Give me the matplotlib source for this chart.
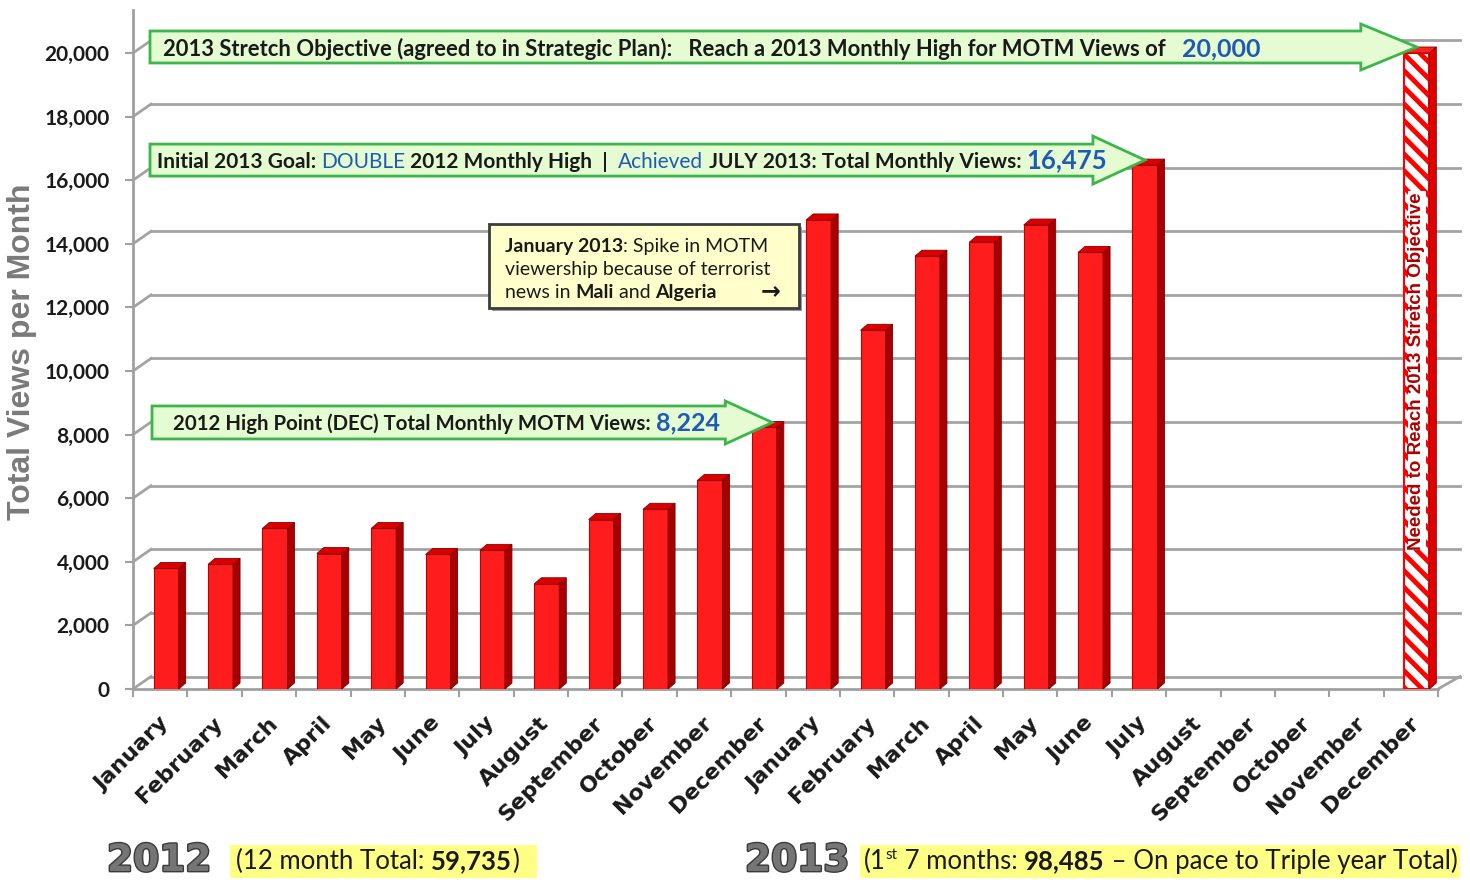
import matplotlib
matplotlib.use("Agg")
import numpy as np
import matplotlib.pyplot as plt
import matplotlib.transforms as mtransforms
import matplotlib.patheffects as pe
from matplotlib.patches import Polygon, Rectangle

# monthly MOTM views
months = ["January", "February", "March", "April", "May", "June", "July",
          "August", "September", "October", "November", "December"]
views_2012 = [3790, 3920, 5050, 4260, 5050, 4230, 4360, 3310, 5330, 5651, 6560, 8224]
views_2013 = [14750, 11280, 13610, 14050, 14590, 13730, 16475]
stretch_goal = 20000
yticks = list(range(0, 20001, 2000))

FONT = ["Lato", "DejaVu Sans"]
BLUE = "#1f5bb5"
plt.rcParams["hatch.linewidth"] = 3.5

W, H = 1470, 880
fig = plt.figure(figsize=(W / 100, H / 100), dpi=100)
ax = fig.add_axes([133 / W, 191 / H, 1305 / W, 679 / H])
YMAX = 21352
ax.set_xlim(-0.5, 23.5)
ax.set_ylim(0, YMAX)

# pixel -> data unit helpers
PXX = 24 / 1305
PXY = YMAX / 679
SHIFT = 6 * PXX      # bars sit a little back from the front edge
BW = 25 * PXX
DX, DY = 7 * PXX, 6 * PXY

# back wall gridlines with the little diagonal from each tick
GX0 = -0.5 + 18 * PXX
GX1 = 23.5 + 22 * PXX
GDY = 12.5 * PXY
for v in yticks:
    ax.plot([-0.5, GX0], [v, v + GDY], color="#a3a3a3", lw=2, clip_on=False, zorder=1)
    ax.plot([GX0, GX1], [v + GDY, v + GDY], color="#a3a3a3", lw=2, clip_on=False, zorder=1)
ax.plot([23.5, GX1], [0, GDY], color="#a3a3a3", lw=2, clip_on=False, zorder=1)


def faces(bars, side_col, top_col):
    for b in bars:
        x0, w, h = b.get_x(), b.get_width(), b.get_height()
        x1 = x0 + w
        ax.add_patch(Polygon([(x1, 0), (x1 + DX, DY), (x1 + DX, h + DY), (x1, h)],
                             closed=True, fc=side_col, ec="#7a0000", lw=0.6, zorder=3))
        ax.add_patch(Polygon([(x0, h), (x0 + DX, h + DY), (x1 + DX, h + DY), (x1, h)],
                             closed=True, fc=top_col, ec="#8a0000", lw=0.6, zorder=3))


values = views_2012 + views_2013
xs = np.arange(len(values)) + SHIFT
bars = ax.bar(xs, values, width=BW, color="#ff1c1c", edgecolor="#c00000", lw=0.8, zorder=3)
faces(bars, "#a80000", "#d80000")

goal_x = 23 + SHIFT
goal_bar = ax.bar([goal_x], [stretch_goal], width=BW, color="white", edgecolor="#ff0000",
                  hatch="\\\\", lw=1.5, zorder=3)
faces(goal_bar, "#e00000", "#ff2020")
ax.text(goal_x, stretch_goal / 2, "Needed to Reach 2013 Stretch Objective", rotation=90,
        ha="center", va="center", fontsize=13.5, fontweight="bold", color="#b00000",
        family="Liberation Sans", zorder=4,
        bbox=dict(fc="white", ec="none", pad=0.5))

# axes styling
for s in ["top", "right"]:
    ax.spines[s].set_visible(False)
for s in ["left", "bottom"]:
    ax.spines[s].set_color("#a0a0a0")
    ax.spines[s].set_linewidth(2)
ax.set_yticks(yticks)
ax.set_yticklabels([f"{v:,}" for v in yticks], fontsize=15, fontweight="bold",
                   family=FONT, color="#1a1a1a")
ax.set_xticks(np.arange(-0.5, 24, 1))
ax.set_xticklabels([])
ax.tick_params(axis="both", length=6, width=1.5, color="#a0a0a0")
ax.tick_params(axis="y", pad=11)

lab_tr = mtransforms.offset_copy(ax.get_xaxis_transform(), fig=fig, x=-2, y=-24, units="dots")
for i, m in enumerate(months * 2):
    ax.text(i, 0, m, transform=lab_tr, rotation=45, rotation_mode="anchor",
            ha="right", va="top", fontsize=16, fontweight="bold",
            family="DejaVu Sans", color="#1a1a1a")

fig.text(22 / W, 1 - 352 / H, "Total Views per Month", rotation=90, ha="center",
         va="center", fontsize=23, fontweight="bold", family="Liberation Sans",
         color="#7a7a7a")


def arrow(x_tail, x_tip, y_tip, half_body, half_head, head_len):
    hb, hh, hl = half_body * PXY, half_head * PXY, head_len * PXX
    verts = [(x_tail, y_tip - hb), (x_tip - hl, y_tip - hb), (x_tip - hl, y_tip - hh),
             (x_tip, y_tip), (x_tip - hl, y_tip + hh), (x_tip - hl, y_tip + hb),
             (x_tail, y_tip + hb)]
    ax.add_patch(Polygon(verts, closed=True, fc="#e5fbd2", ec="#3cb54a", lw=2,
                         clip_on=False, zorder=5))
    return ax.transData.transform((x_tail, y_tip))


renderer = fig.canvas.get_renderer()


def text_width(s, fs, weight):
    a = fig.text(0, 0, s + "|", fontsize=fs, fontweight=weight, family=FONT)
    b = fig.text(0, 0, "|", fontsize=fs, fontweight=weight, family=FONT)
    w = a.get_window_extent(renderer).width - b.get_window_extent(renderer).width
    a.remove()
    b.remove()
    return w


def rich(x, y, parts, size):
    # x, y in display pixels (origin bottom-left), y is the baseline
    off = 0.0
    for part in parts:
        s, color, weight = part[:3]
        fs = part[3] if len(part) > 3 else size
        dy = part[4] if len(part) > 4 else 0
        tr = mtransforms.offset_copy(mtransforms.IdentityTransform(), fig=fig,
                                     x=off, y=dy, units="dots")
        fig.text(x, y, s, transform=tr, color=color, fontsize=fs, fontweight=weight,
                 family=FONT, va="baseline", ha="left", zorder=6)
        off += text_width(s, fs, weight)


# stretch objective arrow
tail_x = -0.5 + 17 * PXX
p = arrow(tail_x, goal_x, stretch_goal + 6 * PXY, 16, 23, 56)
rich(163, p[1] - 9, [
    ("2013 Stretch Objective (agreed to in Strategic Plan):   Reach a 2013 Monthly High for MOTM Views of   ",
     "#1a1a1a", "bold"),
    (f"{stretch_goal:,}", BLUE, "bold", 18)], 15.8)

# initial goal arrow (July 2013)
p = arrow(tail_x, 18 + SHIFT, views_2013[6] + 5 * PXY, 16, 24, 52)
rich(157, p[1] - 8, [
    ("Initial 2013 Goal: ", "#1a1a1a", "bold"),
    ("DOUBLE", BLUE, "normal"),
    (" 2012 Monthly High  |  ", "#1a1a1a", "bold"),
    ("Achieved", BLUE, "normal"),
    (" JULY 2013: Total Monthly Views: ", "#1a1a1a", "bold"),
    (f"{views_2013[6]:,}", BLUE, "bold", 18.5)], 15)

# 2012 high point arrow
p = arrow(-0.5 + 19 * PXX, 11 + SHIFT + 8 * PXX, views_2012[11] + 5 * PXY, 16.5, 21.5, 47)
rich(173, p[1] - 8, [
    ("2012 High Point (DEC) Total Monthly MOTM Views: ", "#1a1a1a", "bold"),
    (f"{views_2012[11]:,}", BLUE, "bold", 18)], 14.7)

# note box
ident = mtransforms.IdentityTransform()
fig.add_artist(Rectangle((492, H - 311), 310, 84, transform=ident, fc="#9a9a9a",
                         ec="none", zorder=3))
fig.add_artist(Rectangle((489, H - 308), 310, 84, transform=ident, fc="#ffffcc",
                         ec="#3c3c3c", lw=2, zorder=4))
rich(505, H - 252, [("January 2013", "#1a1a1a", "bold"),
                    (": Spike in MOTM", "#1a1a1a", "normal")], 14)
rich(505, H - 275, [("viewership because of terrorist", "#1a1a1a", "normal")], 14)
rich(505, H - 298, [("news in ", "#1a1a1a", "normal"), ("Mali", "#1a1a1a", "bold"),
                    (" and ", "#1a1a1a", "normal"), ("Algeria", "#1a1a1a", "bold")], 14)
fig.text(761, H - 298, "\u2192", transform=ident, fontsize=17, family="DejaVu Sans",
         fontweight="bold", color="#1a1a1a", va="baseline", zorder=6)

# year summaries at the bottom
for xy, yr in [(107, "2012"), (745, "2013")]:
    fig.text(xy, H - 871, yr, transform=ident, fontsize=27, fontweight="bold",
             family="DejaVu Sans", color="#757575", va="baseline",
             path_effects=[pe.withStroke(linewidth=2, foreground="#3a3a3a")])
fig.add_artist(Rectangle((230, H - 878), 307, 33, transform=ident, fc="#ffff85",
                         ec="none", zorder=4))
fig.add_artist(Rectangle((860, H - 878), 600, 33, transform=ident, fc="#ffff85",
                         ec="none", zorder=4))
total_2012 = sum(views_2012)
total_2013 = sum(views_2013)
rich(236, H - 869, [("(12 month Total: ", "#1a1a1a", "normal"),
                    (f"{total_2012:,}", "#1a1a1a", "bold"),
                    (")", "#1a1a1a", "normal")], 18.5)
rich(864, H - 869, [("(1", "#1a1a1a", "normal"),
                    ("st", "#1a1a1a", "normal", 11, 10),
                    (" 7 months: ", "#1a1a1a", "normal"),
                    (f"{total_2013:,}", "#1a1a1a", "bold"),
                    (" \u2013 On pace to Triple year Total)", "#1a1a1a", "normal")], 18.5)

fig.savefig("out.png", dpi=100)
